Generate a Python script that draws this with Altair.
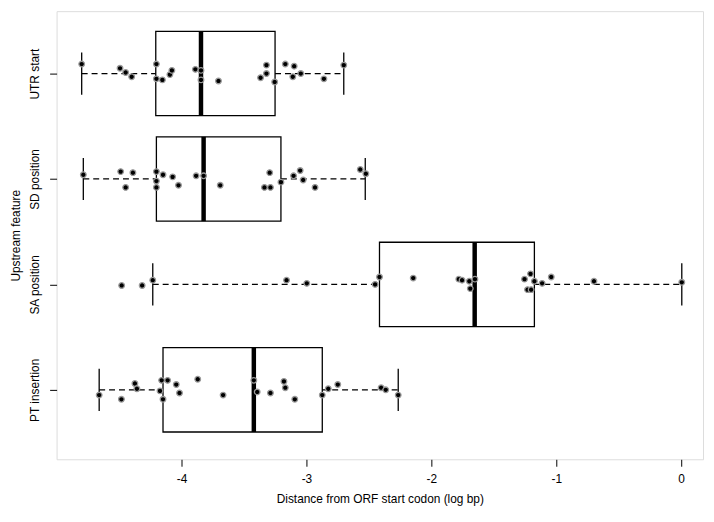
import altair as alt
import pandas as pd

# Categories (bottom to top, as positions 1..4)
categories = ["PT insertion", "SA position", "SD position", "UTR start"]
positions = [1, 2, 3, 4]

# Box statistics (log bp)
whisker_lo = [-4.659, -4.230, -4.786, -4.799]
q1 = [-4.148, -2.415, -4.201, -4.206]
median = [-3.421, -1.653, -3.823, -3.844]
q3 = [-2.873, -1.175, -3.204, -3.251]
whisker_hi = [-2.265, 0.005, -2.529, -2.701]

# Jittered observations: value and vertical jitter (category units)
pt_vals = [-4.659, -4.481, -4.373, -4.357, -4.172, -4.159, -4.148, -4.111, -4.042, -4.016,
           -3.870, -3.667, -3.421, -3.394, -3.288, -3.180, -3.169, -3.093, -2.873, -2.825,
           -2.749, -2.402, -2.365, -2.265]
pt_jit = [-0.05, -0.09, 0.06, 0.01, -0.01, 0.09, -0.09, 0.09, 0.05, -0.03,
          0.10, -0.05, 0.09, -0.02, -0.03, 0.08, 0.02, -0.09, -0.05, 0.01,
          0.05, 0.02, 0.0, -0.05]

sa_vals = [-4.479, -4.315, -4.230, -3.159, -2.997, -2.450, -2.415, -2.145, -1.780, -1.754,
           -1.696, -1.688, -1.651, -1.254, -1.206, -1.175, -1.230, -1.201, -1.113, -1.040,
           -0.698, 0.005]
sa_jit = [-0.01, -0.01, 0.04, 0.04, 0.01, 0.0, 0.07, 0.06, 0.05, 0.04,
          0.03, -0.04, 0.05, 0.05, 0.10, 0.03, -0.05, -0.05, 0.01, 0.07,
          0.03, 0.02]

sd_vals = [-4.786, -4.487, -4.389, -4.447, -4.201, -4.201, -4.201, -4.148, -4.071, -4.024,
           -3.883, -3.823, -3.690, -3.336, -3.294, -3.288, -3.204, -3.103, -3.050, -3.026,
           -2.931, -2.569, -2.524]
sd_jit = [0.04, 0.07, 0.06, -0.08, 0.07, -0.02, -0.08, 0.04, 0.02, -0.06,
          0.03, 0.03, -0.06, -0.08, 0.06, -0.08, -0.03, 0.03, 0.08, -0.01,
          -0.08, 0.09, 0.05]

utr_vals = [-4.799, -4.492, -4.447, -4.399, -4.201, -4.201, -4.153, -4.093, -4.077, -3.889,
            -3.844, -3.844, -3.704, -3.367, -3.320, -3.320, -3.254, -3.169, -3.098, -3.109,
            -3.045, -2.860, -2.701]
utr_jit = [0.09, 0.05, 0.01, -0.03, 0.09, -0.05, -0.06, -0.01, 0.03, 0.04,
           0.03, -0.06, -0.07, -0.04, 0.08, 0.0, -0.08, 0.09, 0.07, -0.03,
           0.0, -0.05, 0.08]

x_ticks = [-4, -3, -2, -1, 0]

BOX_HALF = 0.4
STAPLE_HALF = 0.2

box_df = pd.DataFrame({
    "cat": categories, "pos": positions, "lo": whisker_lo, "q1": q1,
    "med": median, "q3": q3, "hi": whisker_hi,
})
box_df["ylo"] = box_df["pos"] - BOX_HALF
box_df["yhi"] = box_df["pos"] + BOX_HALF
box_df["slo"] = box_df["pos"] - STAPLE_HALF
box_df["shi"] = box_df["pos"] + STAPLE_HALF

rows = []
for p, vals, jit in [(1, pt_vals, pt_jit), (2, sa_vals, sa_jit),
                     (3, sd_vals, sd_jit), (4, utr_vals, utr_jit)]:
    for v, j in zip(vals, jit):
        rows.append({"pos": p, "value": v, "y": p + j})
pts_df = pd.DataFrame(rows)

label_expr = " : ".join(
    f"datum.value == {p} ? '{c}'" for p, c in zip(positions, categories)
) + " : ''"

xscale = alt.Scale(domain=[-5.0, 0.175], nice=False, zero=False)
yscale = alt.Scale(domain=[0.341, 4.592], nice=False, zero=False)

FONT = "Liberation Sans"

xaxis = alt.Axis(values=x_ticks, title="Distance from ORF start codon (log bp)",
                 grid=False, domain=False, tickColor="black", tickSize=7,
                 labelPadding=7, titlePadding=10, labelColor="black",
                 titleColor="black", labelFontSize=12, titleFontSize=12,
                 titleFontWeight="normal", labelFont=FONT, titleFont=FONT,
                 labelExpr="datum.value + ''")
yaxis = alt.Axis(values=positions, labelExpr=label_expr, title="Upstream feature",
                 grid=False, domain=False, tickColor="black", tickSize=7,
                 labelAngle=-90, labelAlign="center", labelBaseline="bottom",
                 labelPadding=8, titlePadding=6, labelColor="black",
                 titleColor="black", labelFontSize=12, titleFontSize=12,
                 titleFontWeight="normal", labelFont=FONT, titleFont=FONT)

base = alt.Chart(box_df)

boxes = base.mark_rect(fill="white", stroke="black", strokeWidth=1.3).encode(
    x=alt.X("q1:Q", scale=xscale, axis=xaxis), x2="q3:Q",
    y=alt.Y("ylo:Q", scale=yscale, axis=yaxis), y2="yhi:Q",
)
whisk_lo = base.mark_rule(color="black", strokeWidth=1.3, strokeDash=[6, 4]).encode(
    x=alt.X("lo:Q", scale=xscale), x2="q1:Q", y=alt.Y("pos:Q", scale=yscale),
)
whisk_hi = base.mark_rule(color="black", strokeWidth=1.3, strokeDash=[6, 4]).encode(
    x=alt.X("q3:Q", scale=xscale), x2="hi:Q", y=alt.Y("pos:Q", scale=yscale),
)
staple_lo = base.mark_rule(color="black", strokeWidth=1.3).encode(
    x=alt.X("lo:Q", scale=xscale), y=alt.Y("slo:Q", scale=yscale), y2="shi:Q",
)
staple_hi = base.mark_rule(color="black", strokeWidth=1.3).encode(
    x=alt.X("hi:Q", scale=xscale), y=alt.Y("slo:Q", scale=yscale), y2="shi:Q",
)
med = base.mark_rule(color="black", strokeWidth=4.5).encode(
    x=alt.X("med:Q", scale=xscale), y=alt.Y("ylo:Q", scale=yscale), y2="yhi:Q",
)
points = alt.Chart(pts_df).mark_point(
    filled=True, fill="black", stroke="#9a9a9a", strokeWidth=1.3, size=32, opacity=1,
    shape="circle",
).encode(
    x=alt.X("value:Q", scale=xscale), y=alt.Y("y:Q", scale=yscale),
)

chart = alt.layer(boxes, whisk_lo, whisk_hi, staple_lo, staple_hi, med, points).properties(
    width=652, height=452,
    autosize=alt.AutoSizeParams(type="none"),
    padding={"left": 49, "top": 1, "right": 3, "bottom": 53},
).configure_view(stroke="black", strokeWidth=1.3).configure(background="white")

chart.save("out.html", embed_options={"renderer": "svg", "actions": False})
